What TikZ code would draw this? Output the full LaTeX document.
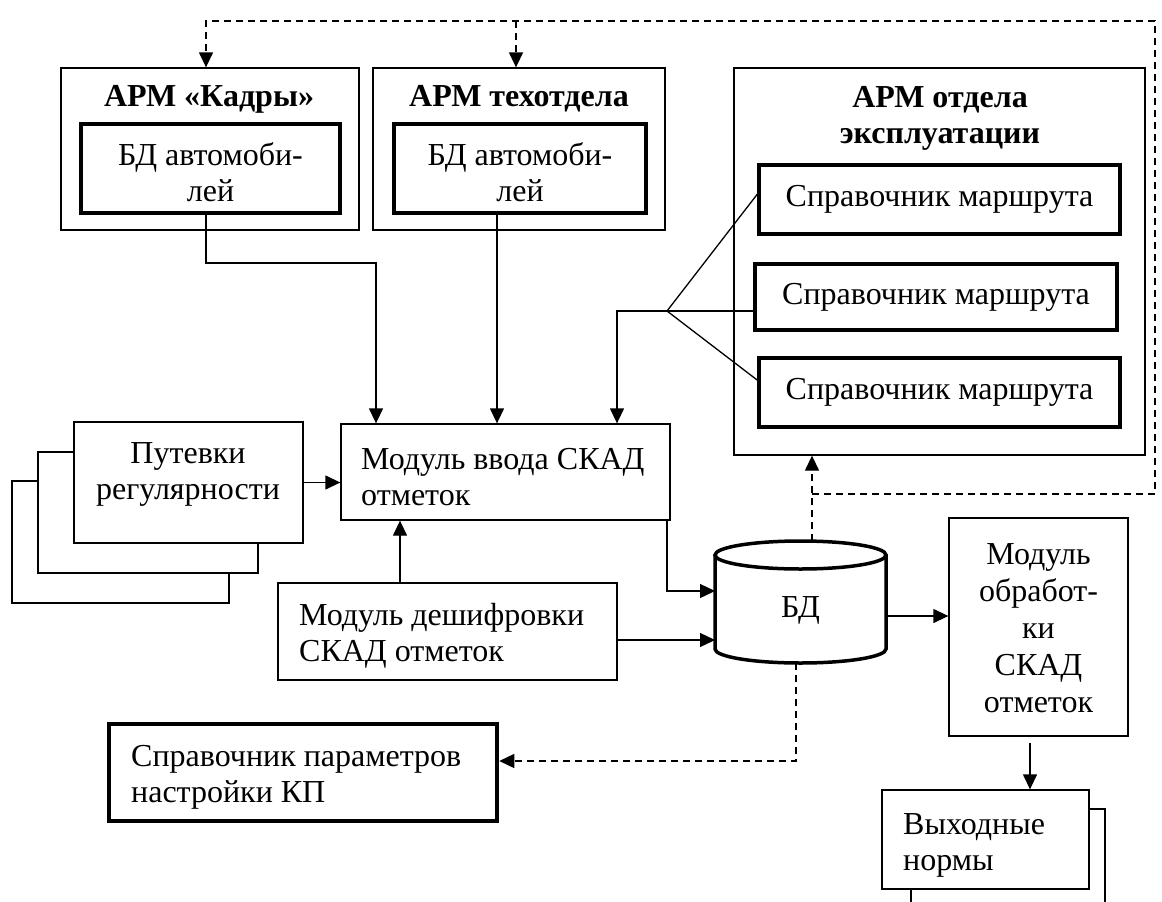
\documentclass[tikz,border=0pt]{standalone}
\usepackage{fontspec}
\setmainfont{Liberation Serif}
\usetikzlibrary{arrows.meta,calc}
\begin{document}
\begin{tikzpicture}[x=1pt,y=-1pt,
 txt/.style={font=\fontsize{32pt}{36pt}\selectfont, inner sep=0pt},
 btxt/.style={font=\fontsize{32pt}{36pt}\selectfont\bfseries, inner sep=0pt, align=center},
 box/.style={draw, line width=1.3pt, inner sep=0pt, fill=white},
 tbox/.style={draw, line width=4.5pt, inner sep=0pt, fill=white, font=\fontsize{32pt}{36pt}\selectfont, align=center},
 arr/.style={line width=1.3pt, -{Triangle[length=15pt,width=14pt]}},
 ln/.style={line width=1.3pt},
 dsh/.style={line width=1.3pt, dash pattern=on 7pt off 5pt},
]
\fill[white] (0,0) rectangle (1162,902);
\useasboundingbox (0,0) rectangle (1162,902);

% ARM Kadry
\node[box, minimum width=298pt, minimum height=162pt] (kadry) at (210,149) {};
\node[btxt] (kadryT) at (209,99) {АРМ «Кадры»};
\node[tbox, minimum width=259pt, minimum height=89pt] (kadryDB) at (210.5,168.5) {};
\node[txt, align=center] (kadryDBT) at (210.5,172) {БД автомоби-\\лей};
% ARM techotdela
\node[box, minimum width=292pt, minimum height=162pt] (tech) at (519,149) {};
\node[btxt] (techT) at (519,99) {АРМ техотдела};
\node[tbox, minimum width=252pt, minimum height=89pt] (techDB) at (520,168.5) {};
\node[txt, align=center] (techDBT) at (520,172) {БД автомоби-\\лей};
% ARM expl
\node[box, minimum width=411pt, minimum height=387pt] (expl) at (939.5,261.5) {};
\node[btxt] (explT) at (940,118) {АРМ отдела\\эксплуатации};
\node[tbox, minimum width=361pt, minimum height=69pt] (sprav1) at (939.5,199.5) {Справочник маршрута};
\node[tbox, minimum width=362pt, minimum height=66pt] (sprav2) at (936,297) {Справочник маршрута};
\node[tbox, minimum width=361pt, minimum height=69pt] (sprav3) at (939.5,392.5) {Справочник маршрута};

% Modul vvoda
\node[box, minimum width=329pt, minimum height=96pt] (vvod) at (505.5,472) {};
\node[txt, anchor=west, align=left] (vvodT) at (361,477) {Модуль ввода СКАД\\отметок};

% Putevki stack
\node[box, minimum width=217pt, minimum height=122pt] (put3) at (120.5,542) {};
\node[box, minimum width=220pt, minimum height=121pt] (put2) at (148,512.5) {};
\node[box, minimum width=229pt, minimum height=121pt] (put1) at (188.5,482.5) {};
\node[txt, align=center] (putT) at (188,474) {Путевки\\регулярности};

% Modul deshifrovki
\node[box, minimum width=339pt, minimum height=97pt] (desh) at (447.5,631.5) {};
\node[txt, anchor=west, align=left] (deshT) at (299,636) {Модуль дешифровки\\СКАД отметок};

% Spravochnik parametrov
\node[tbox, minimum width=388pt, minimum height=97pt] (param) at (303,772.5) {};
\node[txt, anchor=west, align=left] (paramT) at (131,777) {Справочник параметров\\настройки КП};

% BD cylinder
\node[minimum width=171pt, minimum height=122pt, inner sep=0pt, outer sep=0pt] (bd) at (800.5,602) {};
\draw[line width=3.5pt] (800.5,555) ellipse [x radius=85.5pt, y radius=14pt];
\draw[line width=3.5pt] (715,555) -- (715,649) arc[start angle=180, end angle=360, x radius=85.5pt, y radius=14pt] -- (886,555);
\node[txt] (bdT) at (800.5,610) {БД};

% Modul obrabotki
\node[box, minimum width=179pt, minimum height=218pt] (obrab) at (1038.5,627) {};
\node[txt, align=center, font=\fontsize{32pt}{37pt}\selectfont] (obrabT) at (1038.5,628) {Модуль\\обработ-\\ки\\СКАД\\отметок};

% Vyhodnye normy
\begin{scope}
\clip (0,0) rectangle (1162,902);
\node[box, minimum width=194pt, minimum height=111pt] (vyh2) at (1008,864.5) {};
\end{scope}
\node[box, minimum width=207pt, minimum height=99pt] (vyh) at (985.5,839.5) {};
\node[txt, anchor=west, align=left] (vyhT) at (903,845) {Выходные\\нормы};

% connectors
\coordinate (k1) at (206,263);
\coordinate (k2) at (376,263);
\draw[arr] (kadryDB.south -| k1) -- (k1) -- (k2) -- (vvod.north -| k2);
\coordinate (t1) at (497,0);
\draw[arr] (techDB.south -| t1) -- (vvod.north -| t1);
\coordinate (fan) at (667,311);
\coordinate (f1) at (617,311);
\draw[ln] (fan) -- ($(sprav1.west)+(3,-8.5)$);
\draw[ln] (fan) -- (sprav2.west |- fan);
\draw[ln] (fan) -- ($(sprav3.west)+(3,-10.5)$);
\draw[arr] (fan) -- (f1) -- (vvod.north -| f1);
\draw[arr] (put1.east) -- (put1.east -| vvod.west);
\coordinate (d1) at (400,0);
\draw[arr] (desh.north -| d1) -- (vvod.south -| d1);
\coordinate (v1) at (667,591);
\draw[arr] (vvod.south -| v1) -- (v1) -- (v1 -| bd.west);
\coordinate (d2) at (0,640);
\draw[arr] (desh.east |- d2) -- (bd.west |- d2);
\coordinate (b1) at (0,616);
\draw[arr] (bd.east |- b1) -- (obrab.west |- b1);
\coordinate (o1) at (1030,0);
\draw[arr] ($(obrab.south -| o1)+(0,6)$) -- (vyh.north -| o1);

% dashed
\coordinate (c1) at (796,761);
\draw[dsh,arr] (bd.south -| c1) -- (c1) -- (c1 -| param.east);
\coordinate (c2) at (812,494);
\coordinate (c3) at (1155,494);
\coordinate (c4) at (1155,21);
\coordinate (c5) at (206,21);
\coordinate (c6) at (516,21);
\draw[dsh,arr] (bd.north -| c2) -- (expl.south -| c2);
\draw[dsh,arr] (c2) -- (c3) -- (c4) -- (c5) -- (kadry.north -| c5);
\draw[dsh,arr] (c6) -- (tech.north -| c6);
\end{tikzpicture}
\end{document}
